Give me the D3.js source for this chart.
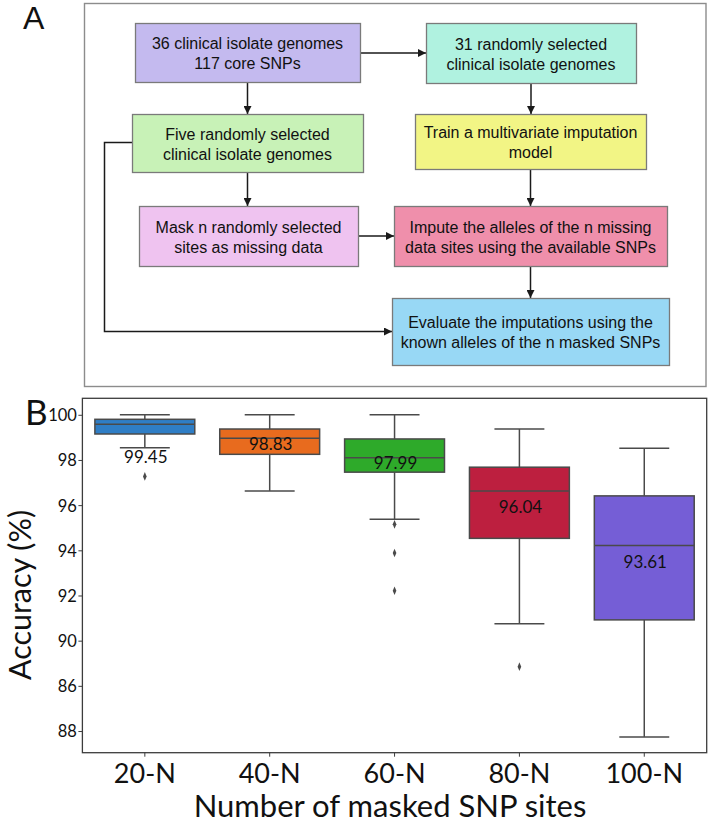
<!DOCTYPE html>
<html>
<head>
<meta charset="utf-8">
<script src="https://cdn.jsdelivr.net/npm/d3@7"></script>
<style>
  html, body { margin: 0; padding: 0; background: #ffffff; }
  svg { display: block; }
</style>
</head>
<body>
<div id="chart"></div>
<script>
// ---------- Panel A: flowchart content ----------
const nodeIds = ["genomes", "train31", "five", "model", "mask", "impute", "evaluate"];
const nodeLines = [
  ["36 clinical isolate genomes", "117 core SNPs"],
  ["31 randomly selected", "clinical isolate genomes"],
  ["Five randomly selected", "clinical isolate genomes"],
  ["Train a multivariate imputation", "model"],
  ["Mask n randomly selected", "sites as missing data"],
  ["Impute the alleles of the n missing", "data sites using the available SNPs"],
  ["Evaluate the imputations using the", "known alleles of the n masked SNPs"]
];
const nodeColors = ["#c4baef", "#b0f2e0", "#c8f2b7", "#f2f585", "#efc3f0", "#ef8fab", "#98d8f5"];
const edges = [
  ["genomes", "train31"], ["genomes", "five"], ["train31", "model"],
  ["five", "mask"], ["model", "impute"], ["mask", "impute"], ["impute", "evaluate"]
];

// ---------- Panel B: box plot data ----------
const categories = ["20-N", "40-N", "60-N", "80-N", "100-N"];
const whiskerHigh = [100.0, 100.0, 100.0, 99.37, 98.52];
const q3Values    = [99.80, 99.37, 98.93, 97.68, 96.41];
const medians     = [99.58, 98.96, 98.10, 96.63, 94.21];
const q1Values    = [99.15, 98.25, 97.46, 94.53, 90.92];
const whiskerLow  = [98.54, 96.63, 95.37, 90.75, 85.74];
const means       = [99.45, 98.83, 97.99, 96.04, 93.61];
const outliers    = [[97.27], [], [95.15, 93.88, 92.21], [88.85], []];
const boxColors   = ["#2f7ec6", "#e86b1e", "#2eaa2a", "#bd1f3f", "#755ed6"];
const yTickValues = [100, 98, 96, 94, 92, 90, 88, 86];
const yTickLabels = ["100", "98", "96", "94", "92", "90", "86", "88"];

// ---------- Drawing ----------
const W = 708, H = 825;
const svg = d3.select("#chart").append("svg").attr("width", W).attr("height", H);

// Panel A layout
const layoutA = {
  genomes:  {x: 135, y: 23,  w: 225, h: 59},
  train31:  {x: 426, y: 23,  w: 210, h: 60},
  five:     {x: 132, y: 114, w: 231, h: 58},
  model:    {x: 415, y: 114, w: 231, h: 55},
  mask:     {x: 139, y: 206, w: 219, h: 60},
  impute:   {x: 394, y: 206, w: 273, h: 60},
  evaluate: {x: 392, y: 298, w: 277, h: 67}
};

const defs = svg.append("defs");
defs.append("marker").attr("id", "arrow")
  .attr("viewBox", "0 0 10 10").attr("refX", 10).attr("refY", 5)
  .attr("markerWidth", 9).attr("markerHeight", 8).attr("markerUnits", "userSpaceOnUse")
  .attr("orient", "auto")
  .append("path").attr("d", "M0,0 L10,5 L0,10 z").attr("fill", "#1a1a1a");

const gA = svg.append("g");
gA.append("rect").attr("x", 84.5).attr("y", 3.5).attr("width", 621.5).attr("height", 383)
  .attr("fill", "none").attr("stroke", "#8c8c8c").attr("stroke-width", 1.4);
svg.append("text").attr("x", 23).attr("y", 28.5).text("A")
  .attr("font-family", "Liberation Sans, Arial, sans-serif").attr("font-size", 32).attr("fill", "#111");

// edges
edges.forEach(([a, b]) => {
  const A = layoutA[a], B = layoutA[b];
  let x1, y1, x2, y2;
  if (Math.abs((A.y + A.h / 2) - (B.y + B.h / 2)) < 5) { // horizontal
    y1 = y2 = B.y + B.h / 2;
    x1 = A.x + A.w; x2 = B.x;
  } else {
    x1 = x2 = A.x + A.w / 2 > B.x && A.x + A.w / 2 < B.x + B.w ? A.x + A.w / 2 : B.x + B.w / 2;
    y1 = A.y + A.h; y2 = B.y;
  }
  gA.append("line").attr("x1", x1).attr("y1", y1).attr("x2", x2).attr("y2", y2)
    .attr("stroke", "#1a1a1a").attr("stroke-width", 1.5).attr("marker-end", "url(#arrow)");
});
// elbow connector: five -> evaluate
{
  const A = layoutA.five, B = layoutA.evaluate;
  const yA = A.y + A.h / 2 - 0.5, yB = B.y + B.h / 2;
  gA.append("path")
    .attr("d", `M${A.x},${yA} H104.5 V${yB} H${B.x}`)
    .attr("fill", "none").attr("stroke", "#1a1a1a").attr("stroke-width", 1.5)
    .attr("marker-end", "url(#arrow)");
}
// nodes
nodeIds.forEach((id, i) => {
  const L = layoutA[id];
  gA.append("rect").attr("x", L.x + 0.5).attr("y", L.y + 0.5).attr("width", L.w).attr("height", L.h)
    .attr("fill", nodeColors[i]).attr("stroke", "#7a7a7a").attr("stroke-width", 1.3);
  const cy = L.y + L.h / 2;
  nodeLines[i].forEach((t, j) => {
    gA.append("text").attr("x", L.x + L.w / 2).attr("y", cy - 3.5 + j * 20)
      .attr("text-anchor", "middle")
      .attr("font-family", "Liberation Sans, Arial, sans-serif").attr("font-size", 16)
      .attr("fill", "#111").text(t);
  });
});

// Panel B
const pLeft = 82.4, pRight = 706.7, pTop = 398.3, pBottom = 752.7;
const x = d3.scaleBand().domain(categories).range([pLeft, pRight]).padding(0);
const y = d3.scaleLinear().domain([85.04, 100.73]).range([pBottom, pTop]);
const fontB = "Lato, 'Open Sans', sans-serif";
const edge = "#4a4a4a";

svg.append("text").attr("x", 25).attr("y", 425).text("B")
  .attr("font-family", fontB).attr("font-size", 35).attr("fill", "#111");

const gB = svg.append("g");
gB.append("rect").attr("x", pLeft).attr("y", pTop).attr("width", pRight - pLeft).attr("height", pBottom - pTop)
  .attr("fill", "none").attr("stroke", "#3c3c3c").attr("stroke-width", 1.3);

// y axis
const yAxis = d3.axisLeft(y).tickValues(yTickValues).tickSize(4)
  .tickFormat((d, i) => yTickLabels[i]);
const gy = gB.append("g").attr("transform", `translate(${pLeft},0)`).call(yAxis);
gy.select(".domain").remove();
gy.selectAll(".tick line").attr("stroke", "#3c3c3c").attr("stroke-width", 1);
gy.selectAll(".tick text").attr("font-family", fontB).attr("font-size", 16.5).attr("fill", "#111")
  .attr("x", -5.5).attr("dy", "0.36em");

// x axis
const xAxis = d3.axisBottom(x).tickSize(4);
const gx = gB.append("g").attr("transform", `translate(0,${pBottom})`).call(xAxis);
gx.select(".domain").remove();
gx.selectAll(".tick line").attr("stroke", "#3c3c3c");
gx.selectAll(".tick text").attr("font-family", fontB).attr("font-size", 27).attr("fill", "#111")
  .attr("y", 30).attr("dy", "0");

// axis titles
gB.append("text").attr("x", 390).attr("y", 817).attr("text-anchor", "middle")
  .attr("font-family", fontB).attr("font-size", 31).attr("fill", "#111")
  .text("Number of masked SNP sites");
gB.append("text").attr("transform", "translate(31,595) rotate(-90)").attr("text-anchor", "middle")
  .attr("font-family", fontB).attr("font-size", 30.5).attr("fill", "#111")
  .text("Accuracy (%)");

// boxes
const bw = x.bandwidth() * 0.8;
categories.forEach((c, i) => {
  const cx = x(c) + x.bandwidth() / 2;
  const g = gB.append("g");
  g.append("line").attr("x1", cx).attr("x2", cx).attr("y1", y(whiskerHigh[i])).attr("y2", y(q3Values[i]))
    .attr("stroke", edge).attr("stroke-width", 1.5);
  g.append("line").attr("x1", cx).attr("x2", cx).attr("y1", y(q1Values[i])).attr("y2", y(whiskerLow[i]))
    .attr("stroke", edge).attr("stroke-width", 1.5);
  [whiskerHigh[i], whiskerLow[i]].forEach(v => {
    g.append("line").attr("x1", cx - bw / 4).attr("x2", cx + bw / 4).attr("y1", y(v)).attr("y2", y(v))
      .attr("stroke", edge).attr("stroke-width", 1.5);
  });
  g.append("rect").attr("x", cx - bw / 2).attr("y", y(q3Values[i]))
    .attr("width", bw).attr("height", y(q1Values[i]) - y(q3Values[i]))
    .attr("fill", boxColors[i]).attr("stroke", edge).attr("stroke-width", 1.5);
  g.append("line").attr("x1", cx - bw / 2).attr("x2", cx + bw / 2)
    .attr("y1", y(medians[i])).attr("y2", y(medians[i]))
    .attr("stroke", edge).attr("stroke-width", 1.5);
  outliers[i].forEach(v => {
    g.append("path").attr("d", d3.symbol(d3.symbolDiamond, 18)())
      .attr("transform", `translate(${cx},${y(v)}) scale(0.8,1.1)`).attr("fill", edge);
  });
  const labelShift = i === 0 ? 29.5 : 3;
  g.append("text").attr("x", cx + 1).attr("y", y(means[i]) + labelShift).attr("dy", "0.36em")
    .attr("text-anchor", "middle").attr("font-family", fontB).attr("font-size", 17)
    .attr("fill", "#111").text(means[i].toFixed(2));
});
</script>
</body>
</html>
